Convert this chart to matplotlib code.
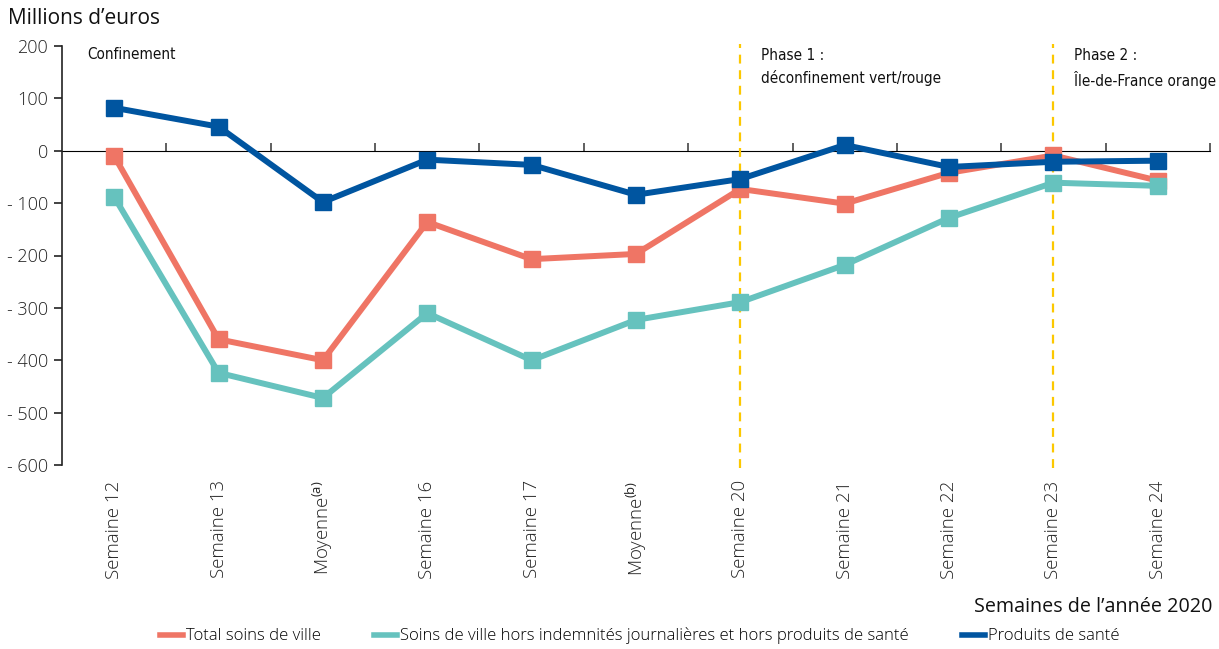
import numpy as np
from matplotlib import pyplot as plt
from matplotlib import font_manager

categories = ['Semaine 12', 'Semaine 13', 'Moyenne$^{\\rm(a)}$', 'Semaine 16', 'Semaine 17',
              'Moyenne$^{\\rm(b)}$', 'Semaine 20', 'Semaine 21', 'Semaine 22', 'Semaine 23', 'Semaine 24']
total_ville = [-10, -360, -400, -136, -207, -197, -73, -101, -42, -9, -57]
hors_ij = [-88, -424, -472, -310, -400, -323, -289, -218, -128, -61, -67]
produits = [82, 46, -98, -17, -27, -84, -54, 11, -31, -21, -19]
yticks = [200, 100, 0, -100, -200, -300, -400, -500, -600]
phases = [6, 9]

RED = '#ef7565'
TEAL = '#66c2be'
BLUE = '#0055a0'
YELLOW = '#fcc800'


def stretch_value(f):
    s = f.stretch
    if isinstance(s, str):
        return font_manager.stretch_dict.get(s, 500)
    return s


# most narrow regular face available for the annotations
cands = [f for f in font_manager.fontManager.ttflist
         if f.style == 'normal' and f.weight in (400, 'normal', 'regular')
         and ('Narrow' in f.name or stretch_value(f) < 500 or 'Condensed' in f.name)]
cands.sort(key=lambda f: (abs(stretch_value(f) - 300), 'Semi' in f.fname))
if cands:
    narrow = font_manager.FontProperties(fname=cands[0].fname, size=11)
else:
    narrow = font_manager.FontProperties(family='Roboto', size=10)


plt.rcParams['font.family'] = ['Open Sans', 'DejaVu Sans']
plt.rcParams['mathtext.fontset'] = 'custom'
plt.rcParams['mathtext.rm'] = 'Open Sans'

fig = plt.figure(figsize=(12.19, 6.49), dpi=100)
ax = fig.add_axes([62 / 1219, 1 - 465 / 649, (1210 - 62) / 1219, (465 - 46) / 649])

x = np.arange(len(categories))
for vals, col, lab in [(total_ville, RED, 'Total soins de ville'),
                       (hors_ij, TEAL, 'Soins de ville hors indemnités journalières et hors produits de santé'),
                       (produits, BLUE, 'Produits de santé')]:
    ax.plot(x, vals, color=col, lw=4.3, marker='s', ms=11.5, label=lab, zorder=3)

for p in phases:
    ax.axvline(p, ymin=-0.008, ymax=1.005, color=YELLOW, lw=1.6, ls=(0, (4, 3)), clip_on=False, zorder=1)

ax.set_xlim(-0.5, len(categories) - 0.5)
ax.set_ylim(-600, 200)
ax.set_yticks(yticks)
ax.set_yticklabels([str(v) if v >= 0 else '- %d' % -v for v in yticks])
ax.tick_params(axis='y', direction='out', length=6, width=1.2, labelsize=13, colors='#222222', pad=4)
ax.set_xticks(x)
ax.set_xticklabels(categories, rotation=90, fontweight='light')
for t in ax.get_yticklabels():
    t.set_fontweight('light')
ax.tick_params(axis='x', length=0, labelsize=13.4, colors='#222222', pad=11)
for s in ['top', 'right', 'bottom']:
    ax.spines[s].set_visible(False)
ax.spines['left'].set_linewidth(1.2)
ax.spines['left'].set_color('#222222')

# zero line with ticks between categories
zero = ax.secondary_xaxis(0.75)
zero.set_xticks(np.arange(0.5, len(categories), 1))
zero.set_xticklabels([])
zero.tick_params(direction='out', length=6, width=1.2, colors='#444444')
zero.spines['bottom'].set_linewidth(1.2)
zero.spines['bottom'].set_color('#444444')

ax.text(-0.26, 184, 'Confinement', fontproperties=narrow, color='#111111', va='center')
ax.text(6.2, 197, 'Phase 1 :\ndéconfinement vert/rouge', fontproperties=narrow,
        color='#111111', va='top', linespacing=1.55)
ax.text(9.2, 197, 'Phase 2 :\nÎle-de-France orange', fontproperties=narrow,
        color='#111111', va='top', linespacing=1.55)

fig.text(8 / 1219, 1 - 18 / 649, 'Millions d\u2019euros', fontsize=15, color='#111111', va='center')
fig.text(1212 / 1219, 1 - 607 / 649, 'Semaines de l\u2019année 2020', fontsize=14.2, color='#111111',
         va='center', ha='right')

leg = fig.legend(loc='center', bbox_to_anchor=(640 / 1219, 1 - 636 / 649), ncol=3, frameon=False,
                 handlelength=1.35, handletextpad=0.2, columnspacing=3.2, fontsize=12)
for t in leg.get_texts():
    t.set_fontweight('light')
for h in leg.legend_handles:
    h.set_marker('')
    h.set_linewidth(4)

fig.savefig('out.png', dpi=100)
